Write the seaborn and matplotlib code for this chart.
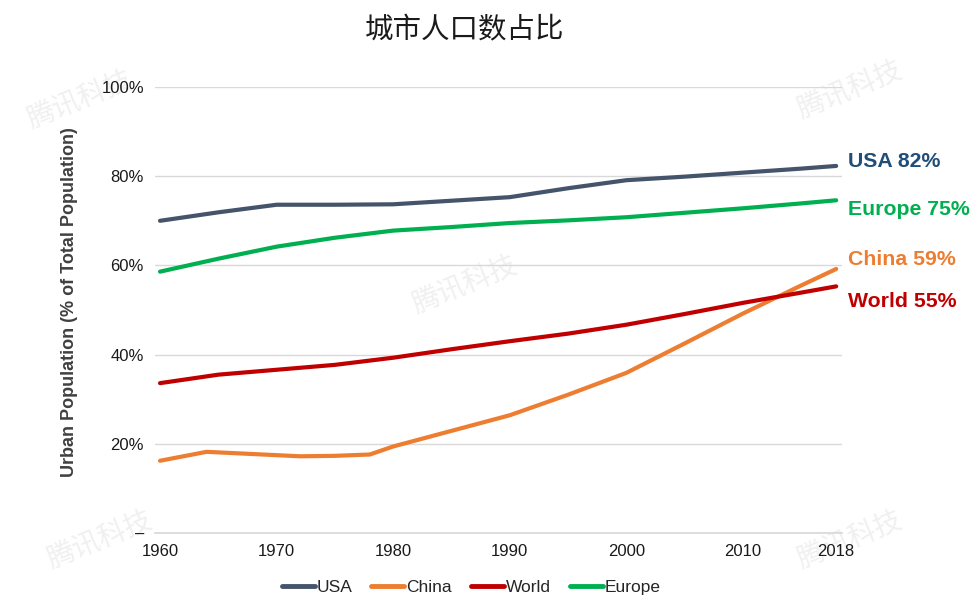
import numpy as np
import pandas as pd
import matplotlib
matplotlib.use("Agg")
import matplotlib.pyplot as plt
import seaborn as sns

# data
years_usa = [1960, 1965, 1970, 1975, 1980, 1985, 1990, 1995, 2000, 2005, 2010, 2015, 2018]
usa = [70.0, 71.9, 73.6, 73.6, 73.7, 74.5, 75.3, 77.3, 79.1, 79.9, 80.8, 81.7, 82.3]

years_china = [1960, 1964, 1968, 1972, 1975, 1978, 1980, 1985, 1990, 1995, 2000, 2005, 2010, 2015, 2018]
china = [16.2, 18.2, 17.7, 17.2, 17.3, 17.6, 19.4, 22.9, 26.4, 31.0, 35.9, 42.5, 49.2, 55.5, 59.2]

years_world = [1960, 1965, 1970, 1975, 1980, 1985, 1990, 1995, 2000, 2005, 2010, 2015, 2018]
world = [33.6, 35.5, 36.6, 37.7, 39.3, 41.2, 43.0, 44.7, 46.7, 49.1, 51.6, 53.9, 55.3]

years_europe = [1960, 1965, 1970, 1975, 1980, 1985, 1990, 1995, 2000, 2005, 2010, 2015, 2018]
europe = [58.6, 61.5, 64.2, 66.2, 67.8, 68.6, 69.5, 70.1, 70.8, 71.8, 72.8, 73.9, 74.6]

series_names = ["USA", "China", "World", "Europe"]
colors = {"USA": "#44546A", "China": "#ED7D31", "World": "#C00000", "Europe": "#00B050"}
end_labels = {"USA": "USA 82%", "Europe": "Europe 75%", "China": "China 59%", "World": "World 55%"}
label_colors = {"USA": "#1F4E79", "Europe": "#00B050", "China": "#ED7D31", "World": "#C00000"}

x_ticks = [1960, 1970, 1980, 1990, 2000, 2010, 2018]
y_ticks = [0, 20, 40, 60, 80, 100]
y_ticklabels = ["–", "20%", "40%", "60%", "80%", "100%"]

df = pd.concat([
    pd.DataFrame({"year": years_usa, "value": usa, "region": "USA"}),
    pd.DataFrame({"year": years_china, "value": china, "region": "China"}),
    pd.DataFrame({"year": years_world, "value": world, "region": "World"}),
    pd.DataFrame({"year": years_europe, "value": europe, "region": "Europe"}),
], ignore_index=True)

sns.set_theme(style="white")
plt.rcParams["font.family"] = ["Liberation Sans", "Noto Sans CJK SC", "DejaVu Sans"]

fig = plt.figure(figsize=(9.73, 5.98), dpi=100)
ax = fig.add_axes([155 / 973, 65 / 598, 687 / 973, 446 / 598])

# faint watermarks, kept behind everything in the axes
for wx, wy in [(80, 100), (850, 90), (465, 285), (100, 540), (850, 540)]:
    ax.text(wx / 973, 1 - wy / 598, "腾讯科技", color="#f0f0f0", fontsize=20,
            rotation=22, ha="center", va="center", style="italic",
            family=["Noto Sans CJK SC"], transform=fig.transFigure,
            zorder=0, clip_on=False)

sns.lineplot(data=df, x="year", y="value", hue="region", hue_order=series_names,
             palette=colors, linewidth=3.0, ax=ax, legend=True)

ax.set_xlim(1959.57, 2018.5)
ax.set_ylim(0, 100)
ax.set_xticks(x_ticks)
ax.set_yticks(y_ticks)
ax.set_yticklabels(y_ticklabels)
ax.tick_params(axis="both", labelsize=12, colors="#1a1a1a", length=0, pad=8)
ax.grid(axis="y", color="#d9d9d9", linewidth=1)
ax.set_axisbelow(True)
for s in ["top", "right", "left"]:
    ax.spines[s].set_visible(False)
ax.spines["bottom"].set_color("#d9d9d9")
ax.set_xlabel("")
ax.set_ylabel("Urban Population (% of Total Population)", fontsize=13,
              fontweight="bold", color="#404040")
ax.yaxis.set_label_coords(-0.112, 0.518)

# end-of-line labels
label_y = {"USA": 83.4, "Europe": 72.6, "China": 61.4, "World": 52.0}
for name in series_names:
    ax.text(2019.0, label_y[name], end_labels[name], color=label_colors[name],
            fontsize=15.3, fontweight="bold", ha="left", va="center", clip_on=False)

leg = ax.legend(loc="upper center", bbox_to_anchor=(0.46, -0.077), ncol=4,
                frameon=False, fontsize=12.5, handlelength=1.9, handletextpad=0.1,
                columnspacing=1.1, borderpad=0.2)
for line in leg.get_lines():
    line.set_linewidth(3.5)

fig.suptitle("城市人口数占比", x=465 / 973, y=1 - 30 / 598, va="center",
             fontsize=20.5, family=["Noto Sans CJK SC"], color="#1a1a1a")

fig.savefig("out.png", dpi=100)
